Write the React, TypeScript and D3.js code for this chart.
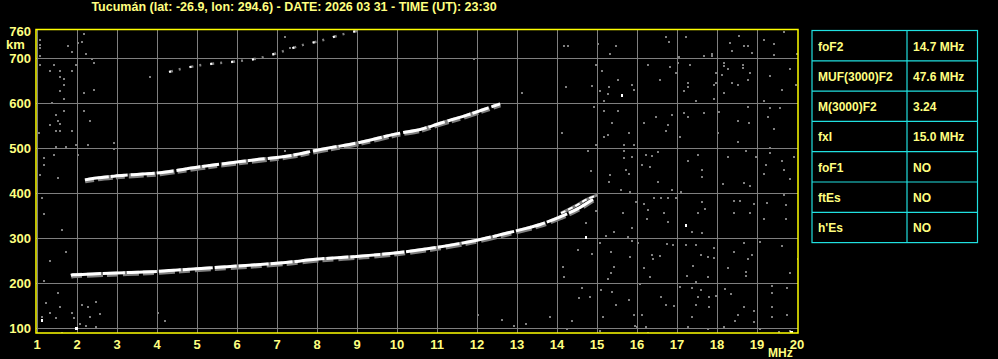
import React from "react";
import * as d3 from "d3";

const TITLE = "Tucumán (lat: -26.9, lon: 294.6) - DATE: 2026 03 31 - TIME (UT): 23:30";
const X_TICKS = [1, 2, 3, 4, 5, 6, 7, 8, 9, 10, 11, 12, 13, 14, 15, 16, 17, 18, 19, 20];
const Y_TICKS = [100, 200, 300, 400, 500, 600, 700];
const Y_TOP_LABEL = 760;

// First-hop F trace (ordinary)
const TRACE1_F = [1.85, 1.9, 2.4, 3.25, 4.08, 4.9, 5.75, 6.58, 7.4, 7.78, 9, 10, 11, 12, 12.58, 13.08, 13.58, 14.08, 14.58, 14.9];
const TRACE1_H = [216, 217, 219, 222, 225, 230, 235, 240, 246, 250, 258, 266, 278, 294, 306, 317, 329, 346, 367, 385];
// Split branch near the critical frequency
const TRACEX_F = [14.1, 14.5, 14.75, 15.0];
const TRACEX_H = [354, 372, 385, 394];
// Second-hop trace
const TRACE2_F = [2.2, 2.48, 3.0, 4.08, 5.08, 6.3, 7.4, 8, 9, 10.08, 10.58, 11.08, 11.75, 12.25, 12.58];
const TRACE2_H = [428, 432, 437, 444, 457, 471, 483, 494, 510, 532, 540, 554, 572, 587, 597];
// Third-hop faint trace
const TRACE3_F = [4.3, 5.08, 5.83, 6.58, 7.08, 7.65, 8.08, 8.58, 9.0];
const TRACE3_H = [668, 683, 690, 699, 712, 728, 737, 750, 759];

// Scattered noise echoes [MHz, km]
const NOISE: [number, number][] = [
  [14.14, 728], [14.24, 728], [14.99, 732], [15.45, 728], [15.3, 710], [16.7, 747], [16.78, 736], [17.2, 748],
  [17.03, 704], [17.66, 706], [17.84, 710], [17.84, 706], [18.53, 750], [18.29, 735], [18.34, 717], [18.64, 727],
  [18.74, 727], [18.84, 713], [19.14, 741], [19.39, 732], [19.39, 707], [19.64, 759], [19.98, 710], [14.95, 685],
  [15.09, 673], [15.51, 653], [14.84, 639], [14.2, 637], [15.28, 637], [15.84, 641], [15.89, 631], [15.24, 622],
  [15.06, 627], [15.14, 605], [16.24, 685], [16.55, 653], [16.8, 681], [16.95, 668], [16.99, 689],
  [17.3, 685], [17.24, 646], [17.24, 637], [17.14, 627], [17.45, 606], [17.95, 668], [17.95, 646], [17.89, 641],
  [18.14, 689], [18.14, 684], [18.09, 663], [18.14, 624], [17.89, 609], [18.24, 676], [18.34, 646], [18.49, 641],
  [18.62, 685], [18.62, 680], [18.81, 668], [18.74, 653], [19.29, 661], [19.79, 676], [19.59, 631], [19.95, 641],
  [19.14, 606], [14.89, 593], [15.14, 583], [15.51, 583], [15.34, 557], [15.14, 525], [15.24, 530], [15.78, 535],
  [15.89, 507], [15.66, 507], [14.94, 507], [16.14, 557], [16.45, 569], [16.85, 574], [16.74, 552], [16.7, 539],
  [17.05, 526], [17.14, 579], [17.24, 569], [17.64, 579], [18.03, 581], [17.99, 535], [18.49, 561], [18.78, 557],
  [18.74, 593], [19.24, 570], [19.29, 590], [19.54, 590], [19.39, 543], [18.49, 515], [18.7, 495], [19.29, 502],
  [19.29, 490], [14.74, 495], [14.1, 535], [14.83, 450], [15.31, 441], [15.66, 495], [15.64, 478], [15.84, 481],
  [15.7, 453], [15.78, 443], [16.09, 463], [16.2, 485], [16.34, 483], [16.49, 493], [16.31, 459], [17.24, 473],
  [17.49, 485], [17.59, 452], [17.59, 437], [18.24, 481], [18.95, 481], [19.19, 463], [19.14, 443], [19.59, 473],
  [19.64, 452], [19.89, 481], [19.79, 433],
  [15.28, 426], [15.58, 408], [15.81, 404], [16.49, 426], [16.85, 408], [17.08, 404], [18.12, 421], [18.64, 424],
  [18.81, 417], [15.95, 382], [16.14, 377], [16.41, 389], [16.58, 389], [16.74, 391], [16.95, 389], [17.59, 382],
  [17.49, 356], [17.68, 366], [18.41, 384], [18.56, 384], [18.39, 356], [18.81, 356], [18.91, 377], [19.14, 343],
  [19.23, 380], [19.64, 397], [19.71, 374], [19.71, 343], [14.7, 334], [14.95, 360], [15.2, 306], [15.41, 315],
  [15.62, 356], [15.84, 323], [16.26, 363], [16.23, 343], [16.74, 337], [16.66, 356], [17.34, 315],
  [17.59, 313], [15.06, 291], [15.74, 304], [15.84, 295], [16.01, 289], [16.73, 288], [16.87, 286], [17.2, 286],
  [17.45, 286], [17.91, 278], [17.89, 256], [18.39, 271], [18.64, 291], [18.84, 263], [18.74, 254], [19.06, 293],
  [19.59, 283], [14.51, 274], [14.84, 266], [15.33, 271], [15.39, 236], [15.33, 224], [15.81, 260], [16.34, 263],
  [16.37, 254], [16.56, 261], [16.14, 234], [16.31, 214], [17.37, 239], [17.58, 263], [17.74, 260], [17.23, 217],
  [17.45, 204], [17.74, 214], [18.24, 234], [18.7, 226], [18.7, 217], [19.81, 224], [20.0, 254], [14.12, 236],
  [14.14, 214], [15.24, 209], [16.06, 199], [15.08, 186], [15.34, 182], [14.59, 191], [14.53, 167], [14.81, 169],
  [15.45, 152], [15.78, 163], [15.89, 130], [15.93, 106], [15.98, 103], [16.09, 130], [16.2, 103], [16.58, 169],
  [16.7, 152], [16.91, 150], [17.05, 193], [17.34, 191], [17.51, 169], [17.58, 186], [17.78, 169], [17.95, 172],
  [17.77, 148], [17.45, 152], [17.34, 126], [17.24, 104], [17.74, 98], [18.18, 187], [18.33, 177], [18.51, 130],
  [18.66, 148], [18.89, 140], [18.89, 115], [19.04, 100], [19.34, 194], [19.34, 180], [19.34, 147], [19.34, 125],
  [19.53, 93], [19.73, 191], [19.73, 130], [19.79, 95], [14.34, 117], [14.23, 100], [15.12, 126], [15.06, 95],
  [16.26, 91], [18.16, 104], [18.43, 117],
  [1.04, 741], [1.04, 730], [1.04, 723], [1.04, 706], [1.04, 686], [1.74, 728], [1.85, 715], [1.99, 734],
  [2.14, 754], [2.1, 737], [2.21, 710], [2.35, 700], [2.39, 691], [1.39, 686], [1.31, 673], [1.54, 673],
  [1.85, 673], [1.96, 686], [1.54, 660], [1.64, 654], [1.64, 641], [1.54, 628], [1.64, 611], [2.14, 624],
  [2.39, 631], [1.35, 602], [1.64, 584], [2.14, 584], [1.46, 574], [1.49, 562], [1.31, 552], [1.54, 554],
  [1.46, 540], [1.54, 540], [1.85, 540], [2.29, 562], [1.02, 535], [2.91, 513], [2.91, 500], [2.24, 508],
  [1.96, 508], [1.71, 504], [1.46, 504], [1.39, 485], [1.14, 478], [1.14, 463], [1.99, 485], [1.04, 441],
  [1.49, 434], [3.79, 660], [7.18, 747], [7.29, 723], [7.18, 495],
  [1.2, 157], [1.55, 148], [1.3, 135], [1.09, 126], [1.45, 123], [1.85, 135], [1.9, 123], [2.05, 110],
  [2.09, 152], [2.24, 148], [2.29, 126], [2.45, 160], [2.55, 132], [2.45, 104], [2.2, 106], [1.6, 90],
  [3.99, 135], [4.18, 117], [1.1, 390], [1.15, 355], [1.6, 320], [1.7, 270], [1.3, 250], [1.15, 205],
  [1.5, 180], [12.0, 130], [12.6, 120], [13.2, 110], [13.8, 125], [12.9, 105], [13.1, 623], [11.9, 700],
];
// Bright (white) isolated echoes
const BRIGHT: [number, number][] = [
  [15.59, 618], [14.7, 303], [17.2, 330], [1.09, 120], [1.95, 102], [1.98, 102], [19.83, 92], [19.86, 92],
];

// Table
const TABLE_KEYS = ["foF2", "MUF(3000)F2", "M(3000)F2", "fxI", "foF1", "ftEs", "h'Es"];
const TABLE_VALS = ["14.7 MHz", "47.6 MHz", "3.24", "15.0 MHz", "NO", "NO", "NO"];

const W = 998;
const H = 359;
const YELLOW = "#ffff00";
const TXT = "#ffff80";
const GRID = "#7f7f7f";
const CYAN = "#20e0e0";
const FONT = "'Liberation Sans', Arial, sans-serif";

export default function App() {
  const x = d3.scaleLinear().domain([1, 20]).range([37, 797]);
  const y = d3.scaleLinear().domain([100, 700]).range([327.5, 57.5]);
  const frame = { x0: 36, x1: 798, y0: 29.5, y1: 333 };

  const line = d3
    .line<[number, number]>()
    .x((d) => x(d[0]))
    .y((d) => y(d[1]))
    .curve(d3.curveMonotoneX);

  const zip = (f: number[], h: number[]) => f.map((v, i) => [v, h[i]] as [number, number]);
  const t1 = line(zip(TRACE1_F, TRACE1_H)) || "";
  const tx = line(zip(TRACEX_F, TRACEX_H)) || "";
  const t2 = line(zip(TRACE2_F, TRACE2_H)) || "";
  const t3 = line(zip(TRACE3_F, TRACE3_H)) || "";

  const rowH = 30.3;
  const tX0 = 812;
  const tX1 = 977.5;
  const tXm = 907;
  const tY0 = 30.5;

  return (
    <svg width={W} height={H} style={{ position: "absolute", left: 0, top: 0, background: "#000" }}>
      <rect x={0} y={0} width={W} height={H} fill="#000" />
      <text x={294} y={11} fill={TXT} fontFamily={FONT} fontWeight="bold" fontSize={12.5} textAnchor="middle">
        {TITLE}
      </text>
      <defs>
        <clipPath id="plotclip">
          <rect x={frame.x0} y={frame.y0} width={frame.x1 - frame.x0} height={frame.y1 - frame.y0} />
        </clipPath>
      </defs>
      {/* grid */}
      <g stroke={GRID} strokeWidth={1}>
        {X_TICKS.filter((t) => t < 20).map((t) => (
          <line key={"gx" + t} x1={Math.round(x(t)) + 0.5} x2={Math.round(x(t)) + 0.5} y1={frame.y0} y2={frame.y1} />
        ))}
        {Y_TICKS.map((t) => (
          <line key={"gy" + t} x1={frame.x0} x2={frame.x1} y1={Math.round(y(t)) + 0.5} y2={Math.round(y(t)) + 0.5} />
        ))}
      </g>
      <g clipPath="url(#plotclip)">
        {NOISE.map((d, i) => (
          <rect key={"n" + i} x={Math.round(x(d[0]))} y={Math.round(y(d[1]))} width={2} height={2} fill="#808080" />
        ))}
        {BRIGHT.map((d, i) => (
          <rect key={"b" + i} x={Math.round(x(d[0]))} y={Math.round(y(d[1]))} width={2} height={3} fill="#fff" />
        ))}
        {/* third hop */}
        <path d={t3} fill="none" stroke="#808080" strokeWidth={2.5} strokeDasharray="4 6 2 9" />
        <path d={t3} fill="none" stroke="#fff" strokeWidth={2} strokeDasharray="2 19" />
        {/* second hop */}
        <path d={t2} fill="none" stroke="#808080" strokeWidth={5} strokeDasharray="9 4 15 3" transform="translate(0,1)" />
        <path d={t2} fill="none" stroke="#fff" strokeWidth={3} strokeDasharray="24 2 17 3" />
        {/* first hop */}
        <path d={t1} fill="none" stroke="#808080" strokeWidth={5} strokeDasharray="11 5 16 4" transform="translate(0,1)" />
        <path d={t1} fill="none" stroke="#fff" strokeWidth={3} strokeDasharray="30 2 22 2" />
        <path d={tx} fill="none" stroke="#808080" strokeWidth={3} />
        <path d={tx} fill="none" stroke="#fff" strokeWidth={2} strokeDasharray="5 3" />
      </g>
      {/* frame */}
      <rect
        x={frame.x0}
        y={frame.y0}
        width={frame.x1 - frame.x0}
        height={frame.y1 - frame.y0}
        fill="none"
        stroke={YELLOW}
        strokeWidth={1.5}
      />
      {/* y labels */}
      <g fill={TXT} fontFamily={FONT} fontWeight="bold" fontSize={13}>
        {Y_TICKS.map((t) => (
          <text key={"yl" + t} x={31} y={y(t) + 5} textAnchor="end">
            {t}
          </text>
        ))}
        <text x={31} y={frame.y0 + 6} textAnchor="end">
          {Y_TOP_LABEL}
        </text>
        <text x={6} y={49}>km</text>
        {X_TICKS.map((t) => (
          <text key={"xl" + t} x={x(t)} y={349} textAnchor="middle">
            {t}
          </text>
        ))}
        <text x={768} y={357} fontSize={12}>MHz</text>
      </g>
      {/* table */}
      <g>
        {TABLE_KEYS.map((k, i) => (
          <g key={"row" + i}>
            <text x={818} y={tY0 + i * rowH + 20} fill={TXT} fontFamily={FONT} fontWeight="bold" fontSize={12}>
              {k}
            </text>
            <text x={913} y={tY0 + i * rowH + 20} fill={TXT} fontFamily={FONT} fontWeight="bold" fontSize={12}>
              {TABLE_VALS[i]}
            </text>
          </g>
        ))}
        <g stroke={CYAN} strokeWidth={1.2} fill="none">
          <rect x={tX0} y={tY0} width={tX1 - tX0} height={rowH * TABLE_KEYS.length} />
          <line x1={tXm} x2={tXm} y1={tY0} y2={tY0 + rowH * TABLE_KEYS.length} />
          {TABLE_KEYS.slice(1).map((_, i) => (
            <line key={"rl" + i} x1={tX0} x2={tX1} y1={tY0 + (i + 1) * rowH} y2={tY0 + (i + 1) * rowH} />
          ))}
        </g>
      </g>
    </svg>
  );
}
